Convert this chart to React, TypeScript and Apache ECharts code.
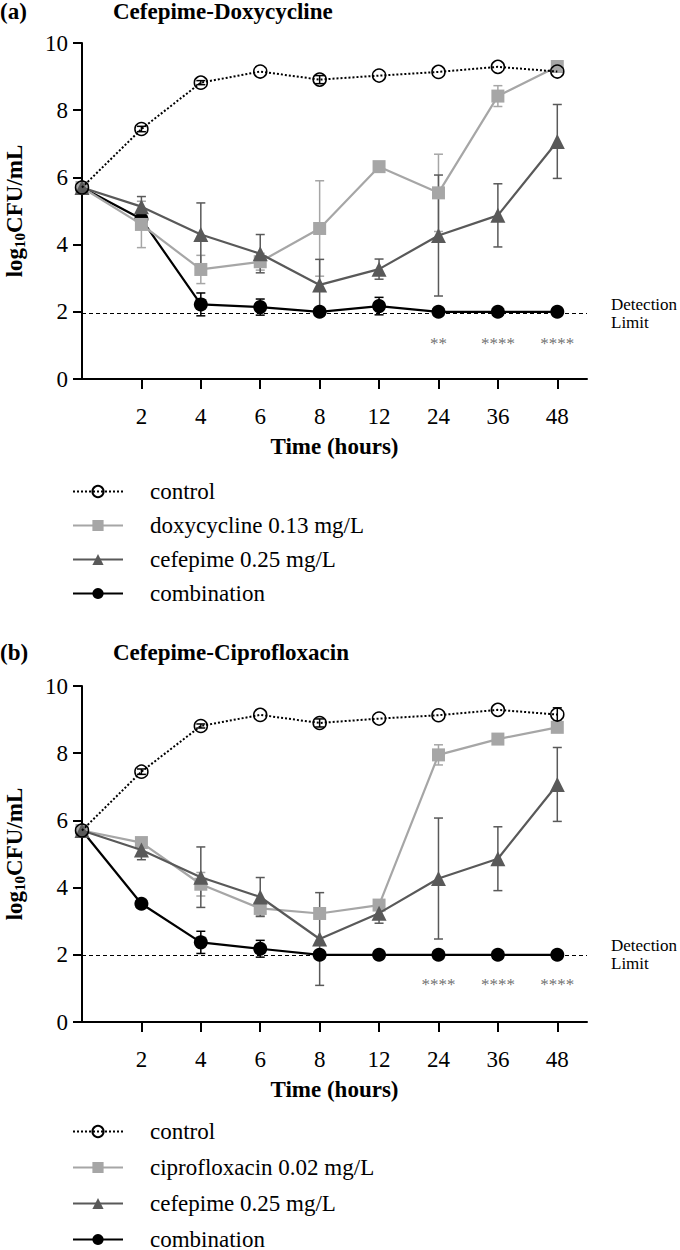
import React, { useEffect, useRef } from "react";
import * as echarts from "echarts";

const times = ["0", "2", "4", "6", "8", "12", "24", "36", "48"];
const yTicks = [0, 2, 4, 6, 8, 10];

// Panel (a) Cefepime-Doxycycline
const aControl = [5.7, 7.44, 8.82, 9.15, 8.91, 9.03, 9.14, 9.29, 9.15];
const aControlErr = [0, 0.08, 0.06, 0, 0.12, 0, 0, 0, 0];
const aDoxy = [5.7, 4.6, 3.26, 3.49, 4.48, 6.32, 5.54, 8.42, 9.3];
const aDoxyErr = [0, 0.69, 0.42, 0.25, 1.42, 0.1, 1.15, 0.31, 0.1];
const aCef = [5.7, 5.13, 4.3, 3.73, 2.8, 3.27, 4.27, 4.87, 7.07];
const aCefErr = [0, 0.3, 0.94, 0.57, 0.76, 0.3, 1.8, 0.94, 1.1];
const aComb = [5.7, 4.76, 2.22, 2.14, 2.0, 2.17, 2.0, 2.0, 2.0];
const aCombErr = [0, 0, 0.34, 0.24, 0, 0.26, 0, 0, 0];
const aStars = ["", "", "", "", "", "", "**", "****", "****"];
const aLimit = 1.95;

// Panel (b) Cefepime-Ciprofloxacin
const bControl = [5.7, 7.45, 8.81, 9.14, 8.9, 9.03, 9.13, 9.29, 9.15];
const bControlErr = [0, 0.08, 0.06, 0, 0.12, 0, 0, 0, 0.2];
const bCipro = [5.7, 5.34, 4.1, 3.38, 3.23, 3.48, 7.95, 8.42, 8.77];
const bCiproErr = [0, 0.12, 0.35, 0.22, 0, 0.1, 0.3, 0.1, 0.1];
const bCef = [5.7, 5.12, 4.31, 3.72, 2.47, 3.24, 4.27, 4.86, 7.07];
const bCefErr = [0, 0.29, 0.9, 0.58, 1.38, 0.3, 1.8, 0.95, 1.1];
const bComb = [5.7, 3.52, 2.37, 2.18, 2.0, 2.0, 2.0, 2.0, 2.0];
const bCombErr = [0, 0, 0.33, 0.25, 0, 0, 0, 0, 0];
const bStars = ["", "", "", "", "", "", "****", "****", "****"];
const bLimit = 2.0;

const FONT = "Liberation Serif";
const FS = 23;
const C_CONTROL = "#000000";
const C_LIGHT = "#a6a6a6";
const C_DARK = "#595959";
const C_COMB = "#000000";

const pts = (vals: number[]) => vals.map((v, i) => [i, v]);
const errPts = (vals: number[], errs: number[]) => vals.map((v, i) => [i, v, errs[i]]);

function errRender(color: string) {
  return (params: any, api: any) => {
    const x = api.value(0);
    const y = api.value(1);
    const e = api.value(2);
    if (!e) return { type: "group", children: [] };
    const hi = api.coord([x, y + e]);
    const lo = api.coord([x, y - e]);
    const w = 4.5;
    const st = { stroke: color, lineWidth: 1.5 };
    return {
      type: "group",
      children: [
        { type: "line", shape: { x1: hi[0], y1: hi[1], x2: lo[0], y2: lo[1] }, style: st },
        { type: "line", shape: { x1: hi[0] - w, y1: hi[1], x2: hi[0] + w, y2: hi[1] }, style: st },
        { type: "line", shape: { x1: lo[0] - w, y1: lo[1], x2: lo[0] + w, y2: lo[1] }, style: st },
      ],
    };
  };
}

function panelSeries(
  idx: number,
  ctrl: number[], ctrlErr: number[],
  drugName: string, drug: number[], drugErr: number[],
  cef: number[], cefErr: number[],
  comb: number[], combErr: number[],
  stars: string[], limit: number, starY: number
) {
  const ax = { xAxisIndex: idx, yAxisIndex: idx };
  const errSeries = (d: number[], e: number[], color: string) => ({
    type: "custom",
    ...ax,
    renderItem: errRender(color),
    data: errPts(d, e),
    encode: { x: 0, y: 1 },
    z: 1,
    silent: true,
  });
  return [
    errSeries(drug, drugErr, C_LIGHT),
    errSeries(cef, cefErr, C_DARK),
    errSeries(comb, combErr, C_COMB),
    errSeries(ctrl, ctrlErr, C_CONTROL),
    {
      type: "line",
      name: drugName,
      ...ax,
      data: pts(drug),
      symbol: "rect",
      symbolSize: 13,
      lineStyle: { color: C_LIGHT, width: 2.2 },
      itemStyle: { color: C_LIGHT },
      z: 3,
    },
    {
      type: "line",
      name: "cefepime 0.25 mg/L",
      ...ax,
      data: pts(cef),
      symbol: "triangle",
      symbolSize: 15,
      lineStyle: { color: C_DARK, width: 2.2 },
      itemStyle: { color: C_DARK },
      z: 4,
    },
    {
      type: "line",
      name: "combination",
      ...ax,
      data: pts(comb),
      symbol: "circle",
      symbolSize: 14,
      lineStyle: { color: C_COMB, width: 2.2 },
      itemStyle: { color: C_COMB },
      z: 2,
    },
    {
      type: "line",
      name: "control",
      ...ax,
      data: pts(ctrl),
      symbol: "circle",
      symbolSize: 13,
      lineStyle: { color: C_CONTROL, width: 2, type: "dotted" },
      itemStyle: { color: "rgba(255,255,255,0)", borderColor: C_CONTROL, borderWidth: 1.5 },
      z: 5,
    },
    {
      type: "scatter",
      name: "stars" + idx,
      ...ax,
      data: stars.map((s, i) => [i, starY, s]).filter((d) => d[2] !== ""),
      symbolSize: 0,
      silent: true,
      label: {
        show: true,
        position: "inside",
        formatter: (p: any) => p.value[2],
        color: "#4a4a4a",
        fontFamily: FONT,
        fontWeight: "normal",
        fontSize: 17,
      },
      markLine: {
        silent: true,
        symbol: "none",
        lineStyle: { color: "#000000", width: 1, type: [4, 3] },
        label: {
          show: true,
          position: "end",
          distance: 24,
          formatter: "Detection\nLimit",
          color: "#000000",
          fontFamily: FONT,
          fontWeight: "normal",
          fontSize: 17,
          lineHeight: 18,
          padding: [0, 0, 8, 0],
        },
        data: [{ yAxis: limit }],
      },
      z: 6,
    },
  ];
}

function xAxis(idx: number) {
  return {
    type: "value",
    gridIndex: idx,
    min: 0,
    max: 8.5,
    name: "Time (hours)",
    nameLocation: "middle",
    nameGap: 56,
    nameMoveOverlap: false,
    nameTextStyle: { fontFamily: FONT, fontSize: FS, fontWeight: "bold", color: "#000" },
    axisLine: { show: true, lineStyle: { color: "#000", width: 2 } },
    axisTick: { show: true, length: 10, lineStyle: { color: "#000", width: 2 }, customValues: [1, 2, 3, 4, 5, 6, 7, 8] },
    axisLabel: {
      show: true,
      customValues: [1, 2, 3, 4, 5, 6, 7, 8],
      formatter: (v: number) => times[Math.round(v)] ?? "",
      margin: 26,
      fontFamily: FONT,
      fontWeight: "normal",
      fontSize: FS,
      color: "#000",
    },
    splitLine: { show: false },
  };
}

function yAxis(idx: number) {
  return {
    type: "value",
    gridIndex: idx,
    min: 0,
    max: 10,
    interval: 2,
    name: "{a|log}{s|10}{a|CFU/mL}",
    nameLocation: "middle",
    nameGap: 55,
    nameRotate: 90,
    nameMoveOverlap: false,
    nameTextStyle: {
      rich: {
        a: { fontFamily: FONT, fontSize: FS, fontWeight: "bold", color: "#000", lineHeight: 24, verticalAlign: "top" },
        s: { fontFamily: FONT, fontSize: 15, fontWeight: "bold", color: "#000", lineHeight: 15, verticalAlign: "bottom", padding: [11, 0, 0, 0] },
      },
    },
    axisLine: { show: true, lineStyle: { color: "#000", width: 2 } },
    axisTick: { show: true, length: 9, lineStyle: { color: "#000", width: 2 } },
    axisLabel: {
      show: true,
      margin: 14,
      fontFamily: FONT,
      fontWeight: "normal",
      fontSize: FS,
      color: "#000",
      formatter: (v: number) => (yTicks.includes(v) ? String(v) : ""),
    },
    splitLine: { show: false },
  };
}

function legend(top: number, drugName: string, gap: number) {
  return {
    orient: "vertical",
    left: 72,
    top,
    height: 170,
    itemWidth: 50,
    itemHeight: 14,
    itemGap: gap,
    padding: 0,
    selectedMode: false,
    data: ["control", drugName, "cefepime 0.25 mg/L", "combination"],
    textStyle: { fontFamily: FONT, fontWeight: "normal", fontSize: FS, color: "#000", padding: [0, 0, 0, 22] },
  };
}

export default function App() {
  const ref = useRef<HTMLDivElement>(null);
  useEffect(() => {
    if (!ref.current) return;
    const chart = echarts.init(ref.current, undefined, { renderer: "svg" });
    const titleStyle = { fontFamily: FONT, fontSize: FS, fontWeight: "bold", color: "#000" };
    chart.setOption({
      animation: false,
      backgroundColor: "#ffffff",
      textStyle: { fontFamily: FONT },
      title: [
        { text: "(a)", left: 0, top: 0, padding: 0, textStyle: titleStyle },
        { text: "Cefepime-Doxycycline", left: 113, top: 0, padding: 0, textStyle: titleStyle },
        { text: "(b)", left: 0, top: 641, padding: 0, textStyle: titleStyle },
        { text: "Cefepime-Ciprofloxacin", left: 113, top: 641, padding: 0, textStyle: titleStyle },
      ],
      legend: [legend(480, "doxycycline 0.13 mg/L", 11), legend(1120, "ciprofloxacin 0.02 mg/L", 13)],
      grid: [
        { left: 82, top: 43, width: 505, height: 336, outerBoundsMode: "none", containLabel: false },
        { left: 82, top: 686, width: 505, height: 336, outerBoundsMode: "none", containLabel: false },
      ],
      xAxis: [xAxis(0), xAxis(1)],
      yAxis: [yAxis(0), yAxis(1)],
      series: [
        ...panelSeries(0, aControl, aControlErr, "doxycycline 0.13 mg/L", aDoxy, aDoxyErr, aCef, aCefErr, aComb, aCombErr, aStars, aLimit, 1.07),
        ...panelSeries(1, bControl, bControlErr, "ciprofloxacin 0.02 mg/L", bCipro, bCiproErr, bCef, bCefErr, bComb, bCombErr, bStars, bLimit, 1.12),
      ],
    });
    return () => chart.dispose();
  }, []);
  return (
    <div style={{ position: "absolute", left: 0, top: 0, width: 680, height: 1300, background: "#fff" }}>
      <div ref={ref} style={{ width: 680, height: 1300 }} />
    </div>
  );
}
